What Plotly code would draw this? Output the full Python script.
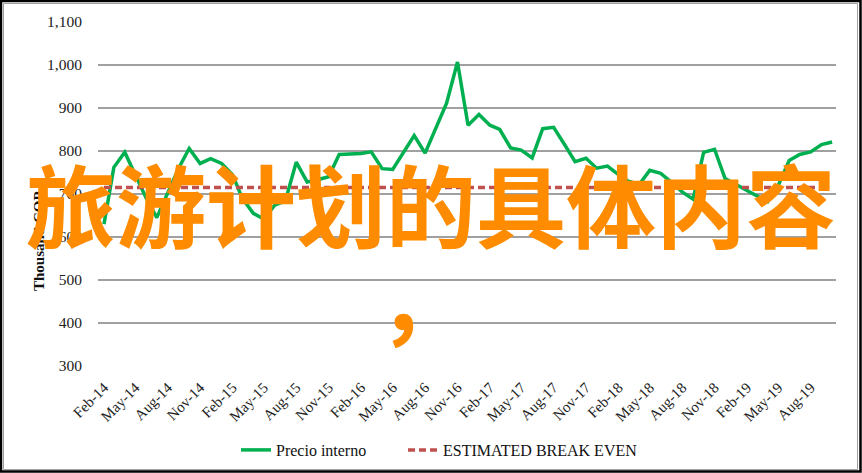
import pandas as pd
import plotly.graph_objects as go

# ---- data ----
months = pd.date_range("2014-02-01", "2019-10-01", freq="MS")
precio_interno = [
    630, 762, 797, 743, 690, 645, 705, 760, 806, 771, 782, 771,
    745, 690, 655, 642, 674, 684, 774, 728, 733, 740, 792, 792,
    794, 798, 759, 757, 797, 836, 795, 856, 911, 1007, 860, 885,
    860, 850, 807, 802, 784, 852, 855, 815, 775, 783, 760, 765,
    745, 730, 722, 755, 748, 728, 705, 688, 797, 804, 736, 722,
    708, 695, 682, 720, 778, 792, 798, 815, 821,
]
break_even_value = 715
break_even = [break_even_value] * (len(months) - 1)
y_ticks = [300, 400, 500, 600, 700, 800, 900, 1000, 1100]
series_names = ["Precio interno", "ESTIMATED BREAK EVEN"]
y_title = "Thousand COP"
overlay_text = "旅游计划的具体内容"
overlay_comma = "，"

# plot-area pixel geometry (for paper conversions)
W, H = 862, 473
L, R, T, B = 98, 836, 22, 366
def px(x):
    return (x - L) / (R - L)
def py(y):
    return (B - y) / (B - T)

serif = "Liberation Serif, Times New Roman, serif"

fig = go.Figure()
fig.add_trace(go.Scatter(
    x=months, y=precio_interno, mode="lines", name=series_names[0],
    line=dict(color="#00B050", width=3.5), legend="legend",
))
fig.add_trace(go.Scatter(
    x=months[:len(break_even)], y=break_even, mode="lines", name=series_names[1],
    line=dict(color="#C0504D", width=3.5, dash="7px,4px"), legend="legend2",
))

legend_font = dict(family=serif, size=16, color="#111")
fig.update_layout(
    width=W, height=H,
    margin=dict(l=L, r=W - R, t=T, b=H - B, autoexpand=False),
    paper_bgcolor="white", plot_bgcolor="white",
    font=dict(family=serif, color="#222"),
    showlegend=True,
    legend=dict(
        orientation="h", x=px(236), xanchor="left", y=py(450), yanchor="middle",
        font=legend_font, bgcolor="rgba(0,0,0,0)",
    ),
    legend2=dict(
        orientation="h", x=px(403), xanchor="left", y=py(450), yanchor="middle",
        font=legend_font, bgcolor="rgba(0,0,0,0)",
    ),
    xaxis=dict(
        type="date",
        range=["2014-01-15", "2019-10-12"],
        tick0="2014-02-01", dtick="M3", tickformat="%b-%y",
        tickangle=-45,
        tickfont=dict(family=serif, size=15, color="#222"),
        showgrid=False, zeroline=False, showline=False,
        ticks="outside", ticklen=6, tickcolor="rgba(0,0,0,0)",
        automargin=False,
    ),
    yaxis=dict(
        range=[300, 1100], tickvals=y_ticks, tickformat=",d",
        tickfont=dict(family=serif, size=15.5, color="#222"),
        showgrid=True, gridcolor="#A0A0A0", gridwidth=1.5,
        zeroline=False, showline=False,
        ticks="outside", ticklen=12, tickcolor="rgba(0,0,0,0)",
        automargin=False,
    ),
)

# outer frame
fig.add_shape(type="rect", xref="paper", yref="paper",
              x0=px(3.5), x1=px(857.5), y0=py(469.5), y1=py(3.5),
              line=dict(color="#A0A0A0", width=1), layer="below")
fig.add_shape(type="rect", xref="paper", yref="paper",
              x0=px(1), x1=px(860.5), y0=py(471.5), y1=py(1),
              line=dict(color="black", width=2.5), layer="below")

# y-axis title
fig.add_annotation(text="<b>" + y_title + "</b>", xref="paper", yref="paper",
                   x=px(39), y=py(241), textangle=-90, showarrow=False,
                   font=dict(family=serif, size=15, color="#111"),
                   xanchor="center", yanchor="middle")

# orange overlay text
fig.add_annotation(text=overlay_text, xref="paper", yref="paper",
                   x=px(431), y=py(202), showarrow=False,
                   xanchor="center", yanchor="middle",
                   font=dict(family="Noto Sans CJK SC", size=90, color="#FF8C00", weight="bold"))
fig.add_annotation(text=overlay_comma, xref="paper", yref="paper",
                   x=px(376), y=py(296), showarrow=False,
                   xanchor="left", yanchor="middle",
                   font=dict(family="Noto Sans CJK SC", size=90, color="#FF8C00", weight="bold"))

fig.write_html("out.html")
